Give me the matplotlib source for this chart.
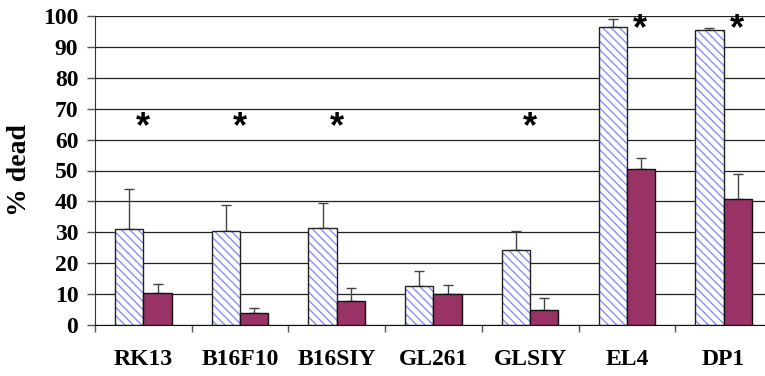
import numpy as np
import matplotlib
matplotlib.use("Agg")
import matplotlib.pyplot as plt

cells = ["RK13", "B16F10", "B16SIY", "GL261", "GLSIY", "EL4", "DP1"]
hatched_vals = [31.2, 30.3, 31.5, 12.6, 24.4, 96.5, 95.6]
hatched_err = [12.8, 8.4, 8.1, 5.0, 6.1, 2.4, 0.6]
solid_vals = [10.3, 3.8, 7.7, 9.9, 4.8, 50.4, 40.9]
solid_err = [3.0, 1.6, 4.3, 3.1, 3.8, 3.7, 8.0]

# significance marks: (category index, x offset, y value)
stars = [(0, 0.0, 64), (1, 0.0, 64), (2, 0.0, 64), (4, 0.0, 64),
         (5, 0.14, 95.5), (6, 0.14, 95.5)]

plt.rcParams['hatch.linewidth'] = 1.0
plt.rcParams['hatch.color'] = '#8c8cff'

fig = plt.figure(figsize=(7.65, 3.76), dpi=100)
ax = fig.add_axes([95/765, 51/376, 1 - 95/765, 309/376])

x = np.arange(len(cells)) + 0.5
w = 0.293

# hatched bars: fill with hatch, then outline on top
ax.bar(x, hatched_vals, width=-w, align='edge', color='white',
       edgecolor='#8c8cff', hatch='\\\\\\\\', linewidth=0, zorder=2)
ax.bar(x, hatched_vals, width=-w, align='edge', fill=False,
       edgecolor='#222222', linewidth=1.0, zorder=3)
ax.bar(x, solid_vals, width=w, align='edge', color='#993366',
       edgecolor='#111111', linewidth=1.0, zorder=3)

ax.errorbar(x - w/2, hatched_vals, yerr=[np.zeros(len(cells)), hatched_err],
            fmt='none', ecolor='#444444', elinewidth=1.0, capsize=3.3,
            capthick=1.0, zorder=1.5)
ax.errorbar(x + w/2, solid_vals, yerr=[np.zeros(len(cells)), solid_err],
            fmt='none', ecolor='#444444', elinewidth=1.0, capsize=3.3,
            capthick=1.0, zorder=1.5)

for i, dx, yv in stars:
    ax.text(x[i] + dx, yv, '*', ha='center', va='center', fontsize=26,
            fontweight='bold', family='Liberation Sans', zorder=4)

ax.set_ylim(0, 100)
ax.set_xlim(0, 670/96.7)
ax.set_yticks(range(0, 101, 10))
ax.yaxis.grid(True, color='#222222', linewidth=0.9)
ax.set_axisbelow(True)

ax.set_xticks(range(0, 7))
ax.set_xticklabels([])
ax.set_xticks(x, minor=True)
ax.set_xticklabels(cells, minor=True)
ax.tick_params(axis='x', which='major', length=5, width=1, color='#555555',
               direction='out')
ax.tick_params(axis='x', which='minor', length=0, pad=17)
ax.tick_params(axis='y', length=6, width=1, color='#555555', pad=6)

for lab in ax.get_xticklabels(minor=True) + ax.get_yticklabels():
    lab.set_family('Liberation Serif')
    lab.set_fontweight('bold')
for lab in ax.get_xticklabels(minor=True):
    lab.set_fontsize(17)
for lab in ax.get_yticklabels():
    lab.set_fontsize(17)

ax.set_ylabel('% dead', family='Liberation Serif', fontweight='bold',
              fontsize=20, labelpad=8)

ax.spines['top'].set_visible(False)
ax.spines['right'].set_visible(False)
ax.spines['left'].set_color('#333333')
ax.spines['bottom'].set_color('#111111')

fig.savefig('out.png', dpi=100)
